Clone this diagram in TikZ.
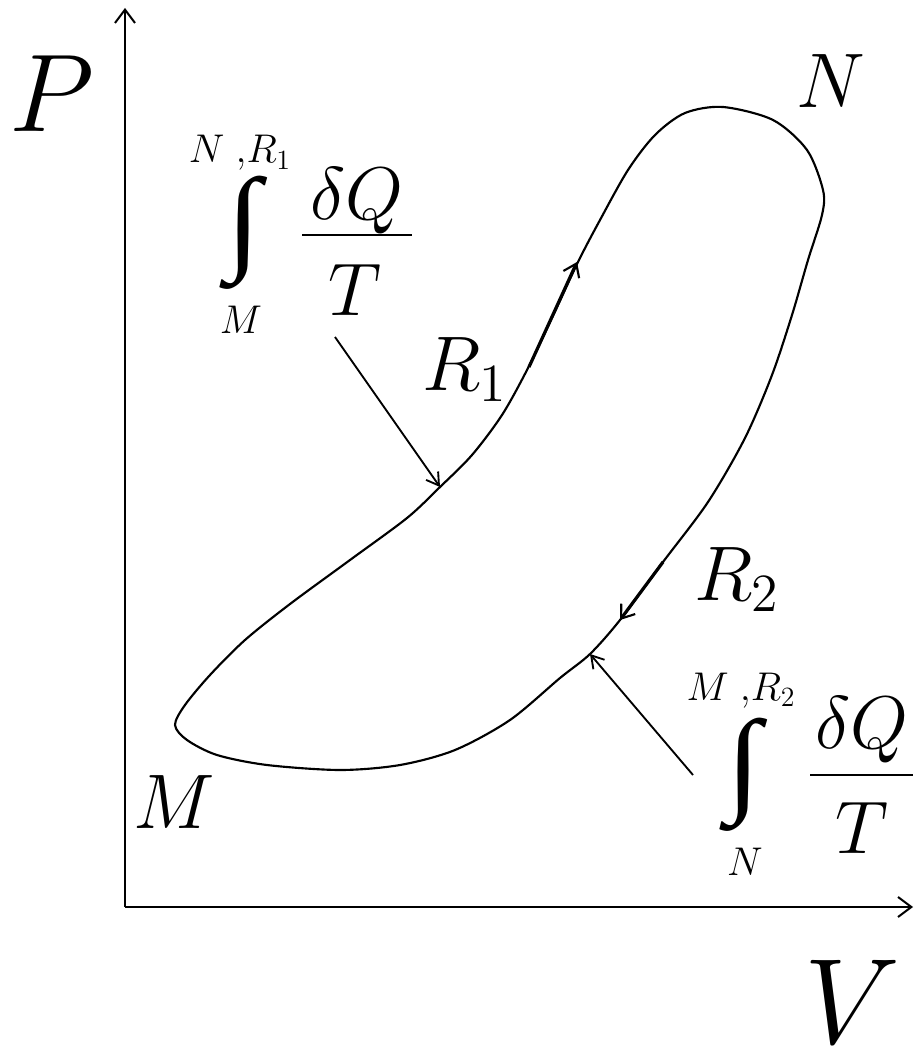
\documentclass[tikz,border=0pt]{standalone}
\usepackage{fontspec}
\usepackage{graphicx}
\newfontfamily\intfont{Liberation Serif}
\usetikzlibrary{arrows.meta}
\newcommand{\fs}[1]{\fontsize{#1}{#1}\selectfont}
% math text set at 20pt and enlarged
\newcommand{\symtxt}[2]{\scalebox{#1}{\fs{20pt}$#2$}}
\newcommand{\intsign}{\resizebox*{26pt}{85pt}{\intfont\fs{20pt}∫}}
\begin{document}
\begin{tikzpicture}[x=0.75pt,y=0.75pt,yscale=-1,xscale=1,
    lbl/.style={inner sep=0pt,anchor=base},
    axis/.style={line width=1.5pt,-{Straight Barb[length=10pt,width=15pt,line width=1.5pt]}},
    loop/.style={line width=1.6pt,line join=round},
    dirarrow/.style={line width=2.4pt,-{Straight Barb[length=9pt,width=13pt,line width=1.6pt]}},
    pointer/.style={line width=1.4pt,-{Straight Barb[length=9pt,width=11pt,line width=1.4pt]}},
    fracbar/.style={line width=2.2pt}]
\useasboundingbox (0,0) rectangle (914,1059);
%Straight Lines (axes)
\coordinate (O) at (125,907);
\coordinate (ptop) at (125,8);
\coordinate (vend) at (913,907);
\draw[axis] (O) -- (ptop);
\draw[axis] (O) -- (vend);
%Shape: closed cycle M -> N
\draw[loop] plot[smooth cycle,tension=0.5] coordinates {(175,725) (187,740) (217,755) (267,765) (340,770) (400,765) (455,750) (510,720) (560,678) (590,654) (620,620) (663,562) (708,502) (745,438) (772,375) (792,315) (808,260) (822,215) (823,190) (807,150) (773,120) (723,107) (685,113) (655,135) (628,170) (600,220) (578,262) (552,318) (527,370) (502,415) (472,455) (440,487) (407,518) (350,560) (290,604) (245,640) (210,675) (185,705)};
%Straight Lines (direction of R1 and R2)
\coordinate (r1a) at (529,367);
\coordinate (r1b) at (577,262);
\coordinate (r2a) at (663,562);
\coordinate (r2b) at (620,620);
\draw[dirarrow] (r1a) -- (r1b);
\draw[dirarrow] (r2a) -- (r2b);

% Text Node
\node[lbl] (labP) at (52,132) {\symtxt{4.0}{P}};
% Text Node
\node[lbl] (labV) at (852,1043) {\symtxt{4.4}{V}};
% Text Node
\node[lbl] (labN) at (831,108) {\symtxt{2.8}{N}};
% Text Node
\node[lbl] (labM) at (174,828) {\symtxt{2.8}{M}};
% Text Node
\node[lbl,anchor=base west] (labR1) at (422,390) {\symtxt{2.8}{R_1}};
% Text Node
\node[lbl,anchor=base west] (labR2) at (694,600) {\symtxt{2.8}{R_2}};

% Text Node (integral along R1)
\node[inner sep=0pt] (int1) at (244,233) {\intsign};
\node[lbl] (up1) at (240,163) {\symtxt{1.45}{N\;{,}R_1}};
\node[lbl] (lo1) at (241,333) {\symtxt{1.45}{M}};
\node[lbl] (num1) at (357,220) {\symtxt{2.7}{\delta Q}};
\node[lbl] (den1) at (355,315) {\symtxt{2.7}{T}};
\draw[fracbar] (302,235) -- (412,235);
% Text Node (integral along R2)
\node[inner sep=0pt] (int2) at (744,775) {\intsign};
\node[lbl] (up2) at (741,700) {\symtxt{1.45}{M\;{,}R_2}};
\node[lbl] (lo2) at (745,875) {\symtxt{1.45}{N}};
\node[lbl] (num2) at (862,748) {\symtxt{2.7}{\delta Q}};
\node[lbl] (den2) at (862,853) {\symtxt{2.7}{T}};
\draw[fracbar] (810,775) -- (913,775);

%Straight Lines (pointers)
\coordinate (p1s) at (335,337);
\coordinate (p1e) at (440,487);
\coordinate (p2s) at (693,775);
\coordinate (p2e) at (590,654);
\draw[pointer] (p1s) -- (p1e);
\draw[pointer] (p2s) -- (p2e);
\end{tikzpicture}
\end{document}
